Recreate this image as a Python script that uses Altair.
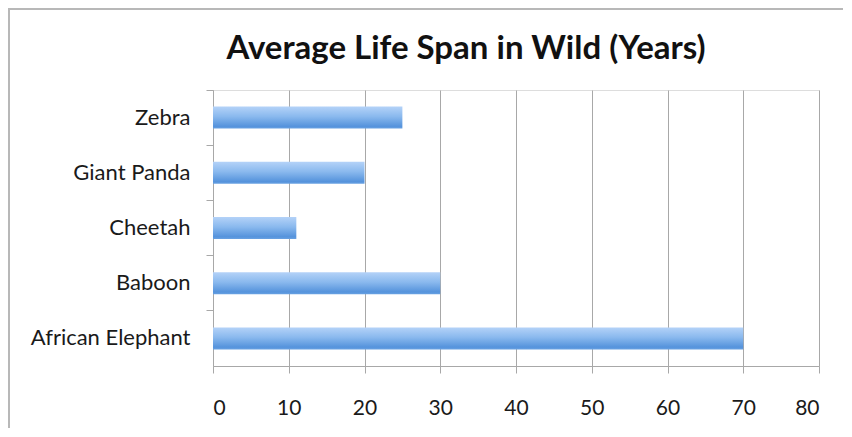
import altair as alt
import pandas as pd

animals = ["Zebra", "Giant Panda", "Cheetah", "Baboon", "African Elephant"]
lifespan = [25, 20, 11, 30, 70]
x_ticks = [0, 10, 20, 30, 40, 50, 60, 70, 80]
title_text = "Average Life Span in Wild (Years)"

df = pd.DataFrame({"animal": animals, "years": lifespan})

W, H = 606, 276
PAD = {"left": 205, "top": 82, "right": 25, "bottom": 63}

grad = alt.Gradient(
    gradient="linear",
    stops=[
        alt.GradientStop(color="#b4d2f8", offset=0),
        alt.GradientStop(color="#8ab9ee", offset=0.45),
        alt.GradientStop(color="#5593dc", offset=0.9),
        alt.GradientStop(color="#6aa2e2", offset=1),
    ],
    x1=0, x2=0, y1=0, y2=1,
)

bars = alt.Chart(df).mark_bar(size=22, color=grad).encode(
    x=alt.X(
        "years:Q",
        scale=alt.Scale(domain=[0, 80], nice=False, zero=True),
        axis=alt.Axis(
            values=x_ticks, title=None, grid=True, gridColor="#a8a8a8",
            domainColor="#a8a8a8", tickColor="#a8a8a8", tickSize=7,
            labelPadding=24, labelFont="Lato", labelFontSize=21,
            labelColor="#1a1a1a",
        ),
    ),
    y=alt.Y(
        "animal:N", sort=animals,
        scale=alt.Scale(paddingInner=0, paddingOuter=0),
        axis=alt.Axis(
            title=None, bandPosition=0,
            tickSize=7, tickColor="#a8a8a8", domainColor="#a8a8a8",
            labelPadding=16, labelFont="Lato", labelFontSize=22,
            labelColor="#1a1a1a", grid=False,
        ),
    ),
)

frame_df = pd.DataFrame({"k": [0]})
left_line = alt.Chart(frame_df).mark_rule(color="#b8b8b8", strokeWidth=2).encode(
    x=alt.value(-204), y=alt.value(-82), y2=alt.value(H + PAD["bottom"] - 1)
)
top_line = alt.Chart(frame_df).mark_rule(color="#b8b8b8", strokeWidth=2).encode(
    x=alt.value(-205), x2=alt.value(W + PAD["right"] - 1), y=alt.value(-81)
)

chart = alt.layer(bars, left_line, top_line).properties(
    width=W, height=H,
    title=alt.TitleParams(
        text=title_text, font="Lato", fontSize=33, fontWeight="bold",
        color="#111111", anchor="middle", frame="group", dx=-50, dy=80,
        offset=21,
    ),
    autosize=alt.AutoSizeParams(type="none"),
    padding=PAD,
).configure_view(stroke=None).configure(background="white")

chart.save("out.html", embed_options={"renderer": "svg", "actions": False})
